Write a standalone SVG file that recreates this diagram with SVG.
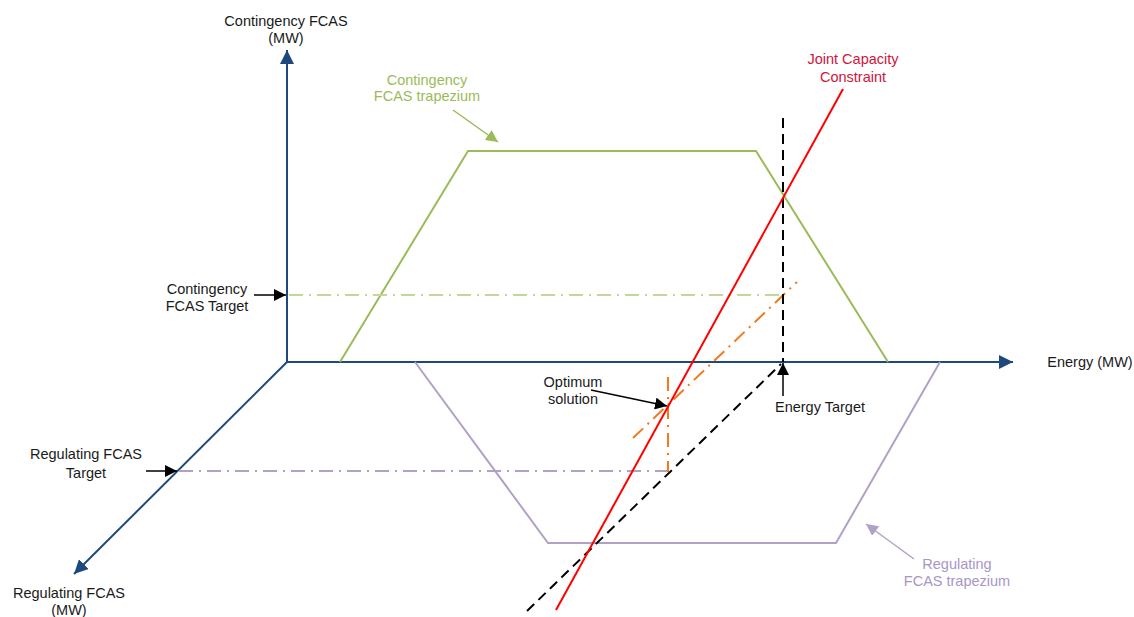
<svg xmlns="http://www.w3.org/2000/svg" width="1134" height="617" viewBox="0 0 1134 617">
<style>
text{font-family:"Liberation Sans",Arial,sans-serif;font-size:14.5px;text-anchor:middle;fill:#1a1a1a}
.axis{stroke:#1F497D;stroke-width:2;fill:none}
.green{stroke:#9BBB59;stroke-width:2;fill:none}
.purple{stroke:#B2A1C7;stroke-width:2;fill:none}
.gdd{stroke:#C3D69B;stroke-width:2;fill:none;stroke-dasharray:14 6 2 6}
.pdd{stroke:#B2A1C7;stroke-width:2;fill:none;stroke-dasharray:14 6 2 6}
.odd{stroke:#F07A1E;stroke-width:2;fill:none;stroke-dasharray:14 6 2 6}
.bdash{stroke:#000;stroke-width:2;fill:none;stroke-dasharray:10 6}
.red{stroke:#FF0000;stroke-width:2;fill:none}
.blk{stroke:#000;stroke-width:1.5;fill:none}
</style>
<defs>
<marker id="ah-blue" viewBox="0 0 10 10" refX="10" refY="5" markerWidth="7" markerHeight="7" markerUnits="strokeWidth" orient="auto"><path d="M0,0 L10,5 L0,10 z" fill="#1F497D"/></marker>
<marker id="ah-black" viewBox="0 0 10 10" refX="10" refY="5" markerWidth="8" markerHeight="8" markerUnits="strokeWidth" orient="auto"><path d="M0,0 L10,5 L0,10 z" fill="#000"/></marker>
<marker id="ah-green" viewBox="0 0 10 10" refX="10" refY="5" markerWidth="8" markerHeight="8" markerUnits="strokeWidth" orient="auto"><path d="M0,0 L10,5 L0,10 z" fill="#9BBB59"/></marker>
<marker id="ah-purple" viewBox="0 0 10 10" refX="10" refY="5" markerWidth="8" markerHeight="8" markerUnits="strokeWidth" orient="auto"><path d="M0,0 L10,5 L0,10 z" fill="#B2A1C7"/></marker>
</defs>

<g id="axes">
<line class="axis" x1="287" y1="362" x2="287" y2="50" marker-end="url(#ah-blue)"/>
<line class="axis" x1="287" y1="362" x2="1013" y2="362" marker-end="url(#ah-blue)"/>
<line class="axis" x1="287" y1="362" x2="74" y2="574" marker-end="url(#ah-blue)"/>
</g>

<g id="contingency-trapezium">
<polyline class="green" points="340,362 468,151 756,151 888,362"/>
</g>
<g id="regulating-trapezium">
<polyline class="purple" points="415,362 548,543 836,543 940,362"/>
</g>

<g id="connectors">
<line class="gdd" x1="289" y1="295" x2="783" y2="295"/>
<line class="pdd" x1="179" y1="471" x2="668" y2="471"/>
<line class="odd" x1="668" y1="377" x2="668" y2="472"/>
<line class="odd" x1="633" y1="438" x2="797" y2="282"/>
<line class="bdash" x1="783" y1="118" x2="783" y2="362"/>
<line class="bdash" x1="527" y1="611" x2="781" y2="364"/>
<line class="red" x1="843" y1="89" x2="556" y2="610"/>
<line class="blk" x1="254" y1="295" x2="286" y2="295" marker-end="url(#ah-black)"/>
<line class="blk" x1="146" y1="471" x2="177" y2="471" marker-end="url(#ah-black)"/>
<line class="blk" x1="591" y1="390" x2="667" y2="406" marker-end="url(#ah-black)"/>
<line class="blk" x1="783" y1="396" x2="783" y2="363" marker-end="url(#ah-black)"/>
<line stroke="#9BBB59" stroke-width="1.5" x1="453" y1="110" x2="498" y2="142" marker-end="url(#ah-green)"/>
<line stroke="#B2A1C7" stroke-width="1.5" x1="914" y1="559" x2="866" y2="524" marker-end="url(#ah-purple)"/>
</g>

<g id="label-contingency-axis"><text x="286" y="26">Contingency FCAS</text><text x="286" y="43">(MW)</text></g>
<g id="label-energy-axis"><text x="1090" y="367">Energy (MW)</text></g>
<g id="label-regulating-axis"><text x="69" y="598">Regulating FCAS</text><text x="69" y="615">(MW)</text></g>
<g id="label-contingency-target"><text x="207" y="294">Contingency</text><text x="207" y="311">FCAS Target</text></g>
<g id="label-regulating-target"><text x="86" y="459">Regulating FCAS</text><text x="86" y="478">Target</text></g>
<g id="label-optimum"><text x="573" y="387">Optimum</text><text x="573" y="404">solution</text></g>
<g id="label-energy-target"><text x="820" y="412">Energy Target</text></g>
<g id="label-joint"><text x="853" y="64" style="fill:#D0143C">Joint Capacity</text><text x="853" y="82" style="fill:#D0143C">Constraint</text></g>
<g id="label-contingency-trap"><text x="427" y="85" style="fill:#9BBB59">Contingency</text><text x="427" y="101" style="fill:#9BBB59">FCAS trapezium</text></g>
<g id="label-regulating-trap"><text x="957" y="569" style="fill:#A796C8">Regulating</text><text x="957" y="586" style="fill:#A796C8">FCAS trapezium</text></g>
</svg>
